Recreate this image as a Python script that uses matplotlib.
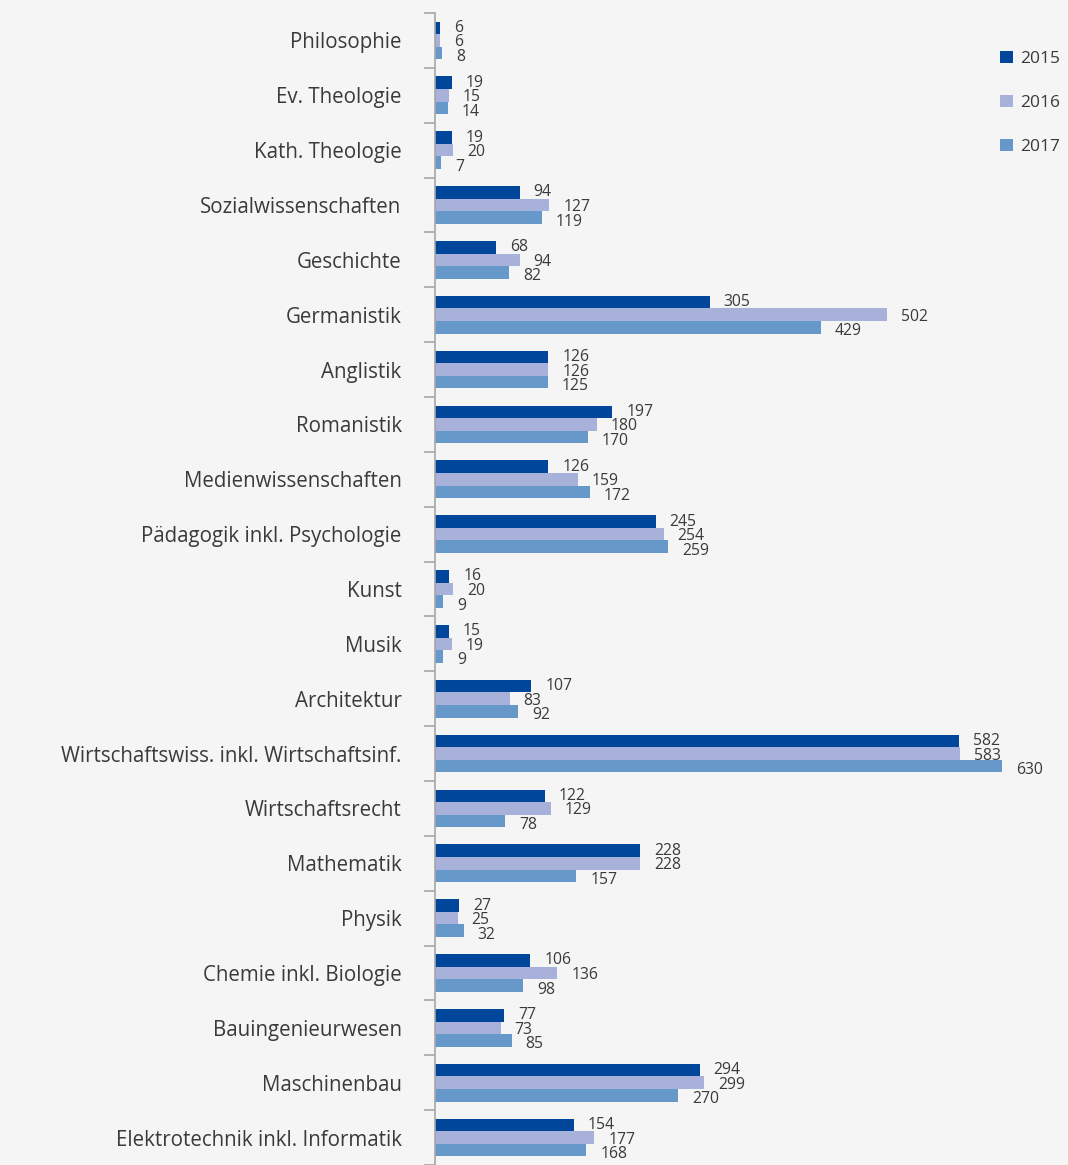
import matplotlib
matplotlib.use("Agg")
import matplotlib.pyplot as plt
import numpy as np

categories = [
    "Philosophie", "Ev. Theologie", "Kath. Theologie", "Sozialwissenschaften",
    "Geschichte", "Germanistik", "Anglistik", "Romanistik",
    "Medienwissenschaften", "Pädagogik inkl. Psychologie", "Kunst", "Musik",
    "Architektur", "Wirtschaftswiss. inkl. Wirtschaftsinf.", "Wirtschaftsrecht",
    "Mathematik", "Physik", "Chemie inkl. Biologie", "Bauingenieurwesen",
    "Maschinenbau", "Elektrotechnik inkl. Informatik",
]
years = ["2015", "2016", "2017"]
values_2015 = [6, 19, 19, 94, 68, 305, 126, 197, 126, 245, 16, 15, 107, 582, 122, 228, 27, 106, 77, 294, 154]
values_2016 = [6, 15, 20, 127, 94, 502, 126, 180, 159, 254, 20, 19, 83, 583, 129, 228, 25, 136, 73, 299, 177]
values_2017 = [8, 14, 7, 119, 82, 429, 125, 170, 172, 259, 9, 9, 92, 630, 78, 157, 32, 98, 85, 270, 168]

colors = ["#00479b", "#a7b1d9", "#6698c9"]
bg = "#f5f5f5"
text_color = "#3a3a3a"

plt.rcParams["font.family"] = ["Open Sans", "DejaVu Sans"]

W, H = 1068, 1165
fig = plt.figure(figsize=(W / 100, H / 100), dpi=100, facecolor=bg)
ax_left = 435 / W
ax_top = 1 - 13 / H
ax = fig.add_axes([ax_left, 0, 1 - ax_left, ax_top])
ax.set_facecolor(bg)

y = np.arange(len(categories))
bh = 0.23
label_step = 0.265
series = [values_2015, values_2016, values_2017]
for k, (vals, col, yr) in enumerate(zip(series, colors, years)):
    pos = y + (k - 1) * bh
    ax.barh(pos, vals, height=bh, color=col, label=yr, edgecolor="none")
    for yc, v in zip(y, vals):
        ax.annotate(str(v), xy=(v, yc + (k - 1) * label_step), xytext=(14, -2),
                    textcoords="offset pixels", ha="left", va="center",
                    fontsize=11.3, color=text_color)

ax.set_xlim(0, (W - 435) / 0.9)
ax.set_ylim((H - 40) / 55, -0.5)

for s in ["top", "right", "bottom"]:
    ax.spines[s].set_visible(False)
ax.spines["left"].set_color("#a6a6a6")
ax.spines["left"].set_linewidth(1.2)
ax.set_xticks([])
ax.set_yticks(y)
ax.set_yticklabels(categories, fontsize=14.8, color=text_color)
ax.tick_params(axis="y", which="major", length=0, pad=24)
ax.set_yticks(np.arange(-0.5, len(categories) + 0.5, 1), minor=True)
ax.tick_params(axis="y", which="minor", length=8, width=1.2, color="#a6a6a6", direction="out")

fig.legend(loc="upper left", bbox_to_anchor=(1000 / W, 1 - 51 / H), frameon=False,
           fontsize=12.5, labelspacing=1.6, handlelength=0.72, handleheight=0.72,
           handletextpad=0.45, borderpad=0, borderaxespad=0, labelcolor=text_color)

fig.savefig("out.png", dpi=100, facecolor=bg)
